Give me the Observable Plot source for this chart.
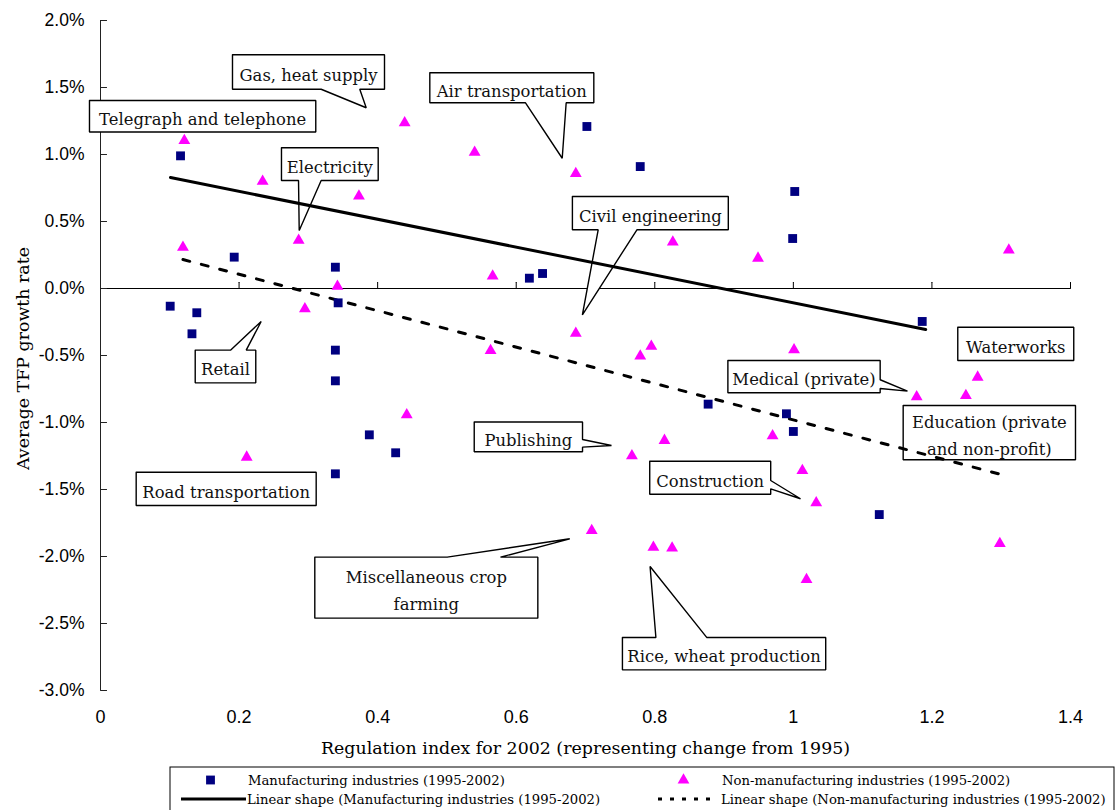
<!DOCTYPE html>
<html>
<head>
<meta charset="utf-8">
<script src="https://cdn.jsdelivr.net/npm/d3@7"></script>
<script src="https://cdn.jsdelivr.net/npm/@observablehq/plot@0.6"></script>
<style>
  body { margin: 0; background: #fff; }
  #chart svg, #legend svg { display: block; }
</style>
</head>
<body>
<div id="chart"></div>
<div id="legend"></div>
<script>
// ---- Data (x = regulation index, y = average TFP growth rate in %) ----
const manuX = [0.1155, 0.193, 0.339, 0.343, 0.1006, 0.139, 0.132, 0.339, 0.339, 0.388, 0.426, 0.339,
               0.619, 0.638, 0.702, 0.779, 1.002, 0.999, 1.186, 0.877, 0.990, 1.000, 1.124];
const manuY = [0.990, 0.234, 0.159, -0.107, -0.132, -0.181, -0.338, -0.460, -0.689, -1.092, -1.226, -1.383,
               0.077, 0.112, 1.209, 0.910, 0.724, 0.373, -0.246, -0.863, -0.935, -1.067, -1.687];

const nonX = [0.121, 0.234, 0.373, 0.439, 0.540, 0.686, 0.119, 0.286, 0.342, 0.295, 0.566, 0.686,
              0.563, 0.442, 0.211, 0.779, 0.795, 0.826, 0.949, 1.311, 1.001, 1.178, 1.249, 1.266,
              0.970, 0.814, 0.767, 1.013, 1.033, 0.709, 0.798, 0.825, 1.019, 1.298];
const nonY = [1.104, 0.799, 0.689, 1.237, 1.017, 0.858, 0.308, 0.360, 0.017, -0.151, 0.092, -0.334,
              -0.463, -0.943, -1.259, -0.505, -0.431, 0.346, 0.226, 0.286, -0.457, -0.808, -0.799, -0.662,
              -1.099, -1.134, -1.249, -1.358, -1.599, -1.806, -1.931, -1.938, -2.172, -1.903];

// Linear shape (trend) lines: end points
const manuTrendX = [0.101, 1.191];
const manuTrendY = [0.828, -0.306];
const nonTrendX = [0.119, 1.300];
const nonTrendY = [0.216, -1.388];

const xTicks = [0, 0.2, 0.4, 0.6, 0.8, 1.0, 1.2, 1.4];
const yTicks = [-3, -2.5, -2, -1.5, -1, -0.5, 0, 0.5, 1, 1.5, 2];

const xTitle = "Regulation index for 2002 (representing change from 1995)";
const yTitle = "Average TFP growth rate";

const seriesNames = [
  "Manufacturing industries (1995-2002)",
  "Non-manufacturing industries (1995-2002)",
  "Linear shape (Manufacturing industries (1995-2002)",
  "Linear shape (Non-manufacturing industries (1995-2002)"
];

const calloutLabels = [
  "Telegraph and telephone", "Gas, heat supply", "Air transportation", "Electricity",
  "Civil engineering", "Retail", "Road transportation", "Waterworks", "Medical (private)",
  "Education (private\nand non-profit)", "Publishing", "Construction",
  "Miscellaneous crop\nfarming", "Rice, wheat production"
];

// ---- Annotation layout (in data units): box extents, wedge side/base, wedge tip ----
const calloutLayout = [
  {x1: -0.0159, x2: 0.3107, y1: 1.403, y2: 1.168},
  {x1: 0.1905, x2: 0.4099, y1: 1.744, y2: 1.487, side: "bottom", a: 0.3185, b: 0.3742, tx: 0.3835, ty: 1.349},
  {x1: 0.4753, x2: 0.7120, y1: 1.610, y2: 1.386, side: "bottom", a: 0.6134, b: 0.6721, tx: 0.6664, ty: 0.972},
  {x1: 0.2612, x2: 0.4008, y1: 1.050, y2: 0.806, side: "bottom", a: 0.2858, b: 0.3185, tx: 0.2868, ty: 0.433},
  {x1: 0.6811, x2: 0.9061, y1: 0.687, y2: 0.438, side: "bottom", a: 0.7183, b: 0.7742, tx: 0.6955, ty: -0.196},
  {x1: 0.1367, x2: 0.2241, y1: -0.460, y2: -0.704, side: "top", a: 0.1876, b: 0.2103, tx: 0.2319, ty: -0.246},
  {x1: 0.0515, x2: 0.3113, y1: -1.371, y2: -1.619},
  {x1: 1.2373, x2: 1.4047, y1: -0.289, y2: -0.537},
  {x1: 0.9055, x2: 1.1253, y1: -0.537, y2: -0.778, side: "right", a: -0.681, b: -0.746, tx: 1.1647, ty: -0.766},
  {x1: 1.1585, x2: 1.4072, y1: -0.873, y2: -1.278},
  {x1: 0.5394, x2: 0.6957, y1: -0.996, y2: -1.218, side: "right", a: -1.127, b: -1.184, tx: 0.7375, ty: -1.172},
  {x1: 0.7927, x2: 0.9673, y1: -1.289, y2: -1.535, side: "right", a: -1.433, b: -1.495, tx: 1.0103, ty: -1.569},
  {x1: 0.3093, x2: 0.6312, y1: -2.005, y2: -2.460, side: "top", a: 0.5004, b: 0.5773, tx: 0.6773, ty: -1.868},
  {x1: 0.7533, x2: 1.0467, y1: -2.604, y2: -2.846, side: "top", a: 0.8016, b: 0.8749, tx: 0.7932, ty: -2.075}
];

// ---- Build tables ----
const manu = manuX.map((x, i) => ({x, y: manuY[i]}));
const non = nonX.map((x, i) => ({x, y: nonY[i]}));
const manuTrend = manuTrendX.map((x, i) => ({x, y: manuTrendY[i]}));
const nonTrend = nonTrendX.map((x, i) => ({x, y: nonTrendY[i]}));

const callouts = calloutLabels.map((label, i) => ({label, ...calloutLayout[i], id: i}));

function outline(c) {
  const TL = [c.x1, c.y1], TR = [c.x2, c.y1], BR = [c.x2, c.y2], BL = [c.x1, c.y2];
  const tip = [c.tx, c.ty];
  let pts;
  if (c.side === "bottom") pts = [TL, TR, BR, [c.b, c.y2], tip, [c.a, c.y2], BL, TL];
  else if (c.side === "top") pts = [TL, [c.a, c.y1], tip, [c.b, c.y1], TR, BR, BL, TL];
  else if (c.side === "right") pts = [TL, TR, [c.x2, c.a], tip, [c.x2, c.b], BR, BL, TL];
  else pts = [TL, TR, BR, BL, TL];
  return pts.map(([x, y]) => ({x, y, id: c.id}));
}
const calloutPoints = callouts.flatMap(outline);

const yFmt = d => (d < 0 ? "-" : "") + Math.abs(d).toFixed(1) + "%";
const xFmt = d => String(Math.round(d * 10) / 10);

const SERIF = "'DejaVu Serif', 'Noto Serif', 'Liberation Serif', serif";
const SANS = "'Liberation Sans', Arial, sans-serif";

const plot = Plot.plot({
  width: 1115,
  height: 762,
  marginLeft: 100,
  marginRight: 45,
  marginTop: 20,
  marginBottom: 72,
  x: {domain: [0, 1.4]},
  y: {domain: [-3, 2]},
  style: {background: "white", fontFamily: SANS, overflow: "visible", color: "black"},
  marks: [
    Plot.axisY(yTicks, {anchor: "left", tickSize: 0, tickPadding: 16, tickFormat: yFmt, fontSize: 17.5, label: null}),
    Plot.axisX(xTicks, {anchor: "bottom", tickSize: 0, tickPadding: 20, tickFormat: xFmt, fontSize: 18, label: null}),
    Plot.ruleX([0], {y1: -3, y2: 2, stroke: "#222", strokeWidth: 1}),
    Plot.ruleY([0], {x1: 0, x2: 1.4, stroke: "black", strokeWidth: 1}),
    Plot.vector(yTicks, {x: 0, y: d => d, length: 6, rotate: 90, anchor: "start", r: 0, stroke: "#222", strokeWidth: 1}),
    Plot.vector(xTicks.slice(1), {x: d => d, y: 0, length: 6, rotate: 0, anchor: "start", r: 0, stroke: "black", strokeWidth: 1}),
    // callouts
    Plot.line(calloutPoints, {x: "x", y: "y", z: "id", fill: "white", stroke: "black", strokeWidth: 1.4, strokeLinejoin: "miter", curve: "linear"}),
    Plot.text(callouts, {x: d => (d.x1 + d.x2) / 2, y: d => (d.y1 + d.y2) / 2, text: "label",
      fontFamily: SERIF, fontSize: 16.4, lineHeight: 1.68, fill: "#111"}),
    // trend lines
    Plot.line(manuTrend, {x: "x", y: "y", stroke: "black", strokeWidth: 3}),
    Plot.line(nonTrend, {x: "x", y: "y", stroke: "black", strokeWidth: 3, strokeDasharray: "7,12"}),
    // points
    Plot.dot(non, {x: "x", y: "y", symbol: "triangle", r: 4.4, fill: "#FF00FF", stroke: "none"}),
    Plot.dot(manu, {x: "x", y: "y", symbol: "square", r: 5, fill: "#000080", stroke: "none"}),
    // axis titles
    Plot.text([xTitle], {text: d => d, frameAnchor: "bottom", lineAnchor: "middle", textAnchor: "middle", dy: 58,
      fontFamily: SERIF, fontSize: 17.4, fill: "black"}),
    Plot.text([yTitle], {text: d => d, frameAnchor: "left", textAnchor: "middle", lineAnchor: "middle", dx: -77, dy: 3, rotate: -90,
      fontFamily: SERIF, fontSize: 17.4, fill: "black"})
  ]
});
document.getElementById("chart").appendChild(plot);

// ---- Legend (below the plot) ----
const lg = d3.select("#legend").append("svg").attr("width", 1115).attr("height", 48);
lg.append("rect").attr("x", 170).attr("y", 5).attr("width", 944).attr("height", 60)
  .attr("fill", "white").attr("stroke", "black").attr("stroke-width", 1);
const row1 = 18, row2 = 37;
lg.append("path").attr("d", d3.symbol(d3.symbolSquare, 78)()).attr("transform", `translate(210.5,${row1})`).attr("fill", "#000080");
lg.append("path").attr("d", d3.symbol(d3.symbolTriangle, 60)()).attr("transform", `translate(683.5,${row1})`).attr("fill", "#FF00FF");
lg.append("line").attr("x1", 181).attr("x2", 246).attr("y1", row2).attr("y2", row2).attr("stroke", "black").attr("stroke-width", 3);
lg.append("line").attr("x1", 658).attr("x2", 716).attr("y1", row2).attr("y2", row2).attr("stroke", "black").attr("stroke-width", 3).attr("stroke-dasharray", "4,8");
const legendText = [
  {x: 248, y: row1, t: seriesNames[0]},
  {x: 722, y: row1, t: seriesNames[1]},
  {x: 247, y: row2, t: seriesNames[2]},
  {x: 721, y: row2, t: seriesNames[3]}
];
lg.selectAll("text.lt").data(legendText).join("text")
  .attr("x", d => d.x).attr("y", d => d.y).attr("dy", "0.35em")
  .attr("font-family", SERIF).attr("font-size", 13.2).attr("fill", "black")
  .text(d => d.t);
</script>
</body>
</html>
